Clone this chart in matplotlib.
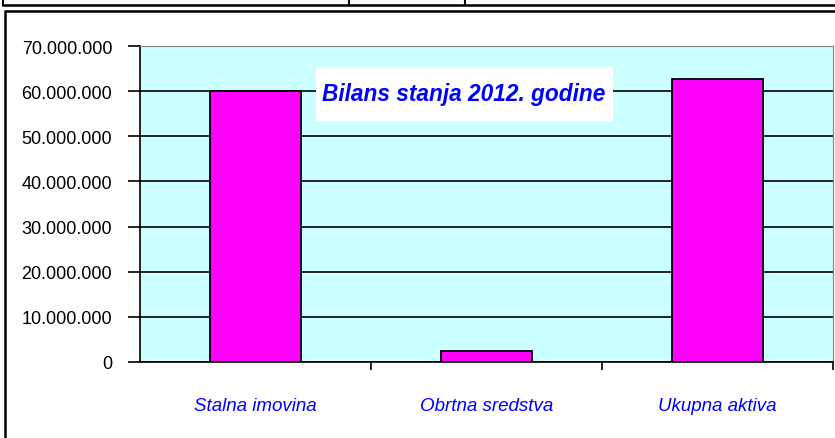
import matplotlib.pyplot as plt
from matplotlib.patches import Rectangle
from matplotlib.lines import Line2D
from matplotlib.ticker import FuncFormatter

categories = ['Stalna imovina', 'Obrtna sredstva', 'Ukupna aktiva']
values = [60100000, 2500000, 62600000]
y_ticks = [0, 10000000, 20000000, 30000000, 40000000, 50000000, 60000000, 70000000]
title = 'Bilans stanja 2012. godine'

W, H = 835, 439
fig = plt.figure(figsize=(W / 100, H / 100), dpi=100)
fig.patch.set_facecolor('white')

# table row cut off at the top of the screenshot
fig.add_artist(Line2D([3 / W, 1], [1 - 6 / H, 1 - 6 / H], color='black', lw=1.8))
for x in [3, 349, 465]:
    fig.add_artist(Line2D([x / W, x / W], [1 - 6 / H, 1], color='black', lw=1.5))

# chart border
fig.add_artist(Rectangle((5 / W, -0.05), 1.0, 1 - 12 / H + 0.05,
                         fill=False, edgecolor='black', lw=1.8, transform=fig.transFigure))

ax = fig.add_axes([140 / W, 1 - 363 / H, (833 - 140) / W, (363 - 47) / H])
ax.set_facecolor('#CCFFFF')

x = range(len(categories))
ax.bar(x, values, width=0.39, color='#FF00FF', edgecolor='black', linewidth=1.3, zorder=3)

ax.set_xlim(-0.5, 2.5)
ax.set_ylim(0, 70000000)
ax.set_yticks(y_ticks)
ax.yaxis.set_major_formatter(FuncFormatter(lambda v, p: f'{int(v):,}'.replace(',', '.')))
ax.grid(axis='y', color='black', lw=1.2, zorder=1)
ax.set_axisbelow(True)

ax.set_xticks([0.5, 1.5, 2.5])
ax.set_xticklabels([])
ax.tick_params(axis='x', direction='out', length=6, width=1.2, color='black')
ax.tick_params(axis='y', direction='out', length=9, width=1.2, pad=11,
               labelsize=13, labelcolor='black')
for lab in ax.get_yticklabels():
    lab.set_fontfamily('Liberation Sans')

for i, c in enumerate(categories):
    ax.text(i, -0.139, c, transform=ax.get_xaxis_transform(), ha='center', va='center',
            color='#0000FF', fontsize=13.5, style='italic', family='Liberation Sans')

ax.spines['left'].set_color('black')
ax.spines['bottom'].set_color('black')
ax.spines['left'].set_linewidth(1.2)
ax.spines['bottom'].set_linewidth(1.2)
ax.spines['top'].set_color('#808080')
ax.spines['right'].set_color('#808080')

# title in a white box inside the plot area
fig.add_artist(Rectangle((316 / W, 1 - 122 / H), (613 - 316) / W, (122 - 68) / H,
                         facecolor='white', edgecolor='none', transform=fig.transFigure,
                         zorder=5))
fig.text(464 / W, 1 - 95 / H, title, ha='center', va='center', color='#0000FF',
         fontsize=16.3, fontweight='bold', style='italic', family='Liberation Sans',
         zorder=6)

fig.savefig('out.png', dpi=100)
